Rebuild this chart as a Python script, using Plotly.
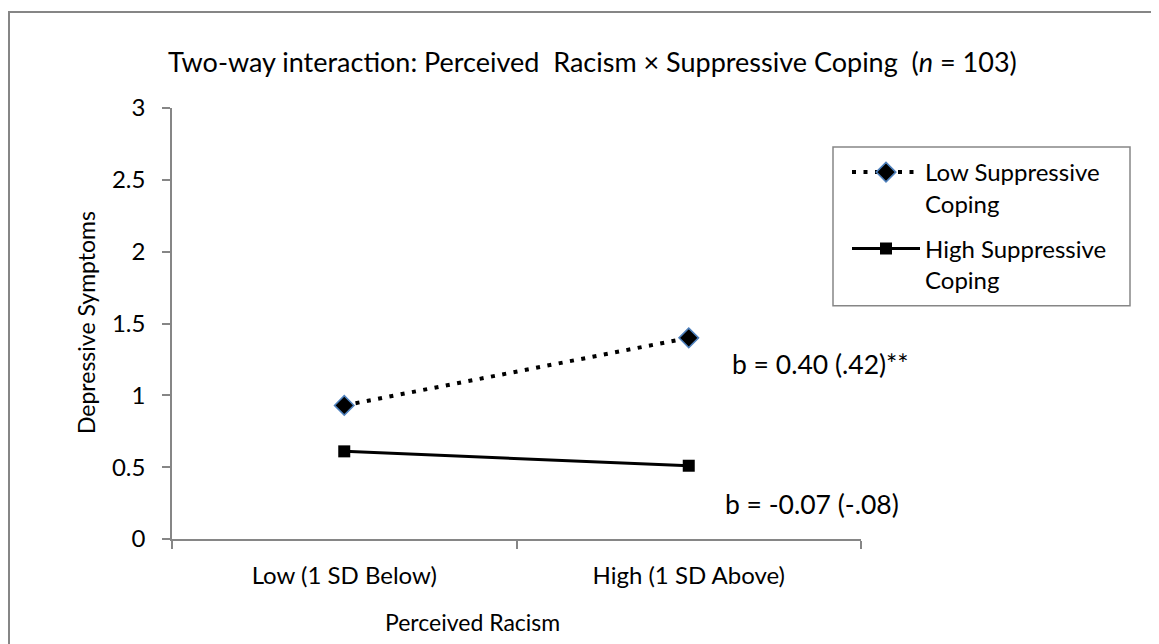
import plotly.graph_objects as go

categories = ["Low (1 SD Below)", "High (1 SD Above)"]
low_coping = [0.93, 1.40]
high_coping = [0.61, 0.51]
series_names = ["Low Suppressive<br>Coping", "High Suppressive<br>Coping"]
slope_labels = ["b = 0.40 (.42)**", "b = -0.07 (-.08)"]
y_ticks = [0, 0.5, 1, 1.5, 2, 2.5, 3]
y_tick_text = ["0", "0.5", "1", "1.5", "2", "2.5", "3"]

FONT = "Lato, Carlito, Calibri, sans-serif"
AXIS = "#868686"

# page body has an 8px margin; work in reference-screen pixels and shift
OFF = 8
W, H = 1151, 636
L, T = 172 - OFF, 108 - OFF
R = W - (861 - OFF)
B = H - (539 - OFF)
PW, PH = W - L - R, H - T - B


def px(x):
    return (x - OFF - L) / PW


def py(y):
    return (H - B - (y - OFF)) / PH


fig = go.Figure()
fig.add_trace(go.Scatter(
    x=categories, y=low_coping, name=series_names[0], mode="lines+markers",
    legendgroup="a",
    line=dict(color="black", width=4, dash="4px,7.5px"),
    marker=dict(symbol="diamond", size=15, color="black",
                line=dict(color="#4F81BD", width=1.5)),
))
fig.add_trace(go.Scatter(
    x=categories, y=high_coping, name=series_names[1], mode="lines+markers",
    legendgroup="b",
    line=dict(color="black", width=3),
    marker=dict(symbol="square", size=12, color="black"),
))

annotations = [
    dict(text="Two-way interaction: Perceived\u00a0 Racism × Suppressive Coping\u00a0 (<i>n</i> = 103)",
         x=px(592), y=py(62), xref="paper", yref="paper", showarrow=False,
         font=dict(size=27, color="black", family=FONT), xanchor="center", yanchor="middle"),
    dict(text="Depressive Symptoms", x=px(86), y=py(323), xref="paper", yref="paper",
         showarrow=False, textangle=-90,
         font=dict(size=23, color="black", family=FONT), xanchor="center", yanchor="middle"),
    dict(text="Perceived Racism", x=px(472), y=py(622), xref="paper", yref="paper",
         showarrow=False,
         font=dict(size=23, color="black", family=FONT), xanchor="center", yanchor="middle"),
    dict(text=slope_labels[0], x=px(730), y=py(364), xref="paper", yref="paper",
         showarrow=False,
         font=dict(size=26.5, color="black", family=FONT), xanchor="left", yanchor="middle"),
    dict(text=slope_labels[1], x=px(723), y=py(504), xref="paper", yref="paper",
         showarrow=False,
         font=dict(size=26.5, color="black", family=FONT), xanchor="left", yanchor="middle"),
]

shapes = [
    # outer chart-area frame (left edge sits at the page's first drawable pixel)
    dict(type="rect", xref="paper", yref="paper", x0=px(OFF + 1), x1=px(1200), y0=py(700), y1=py(12),
         line=dict(color=AXIS, width=2), fillcolor="rgba(0,0,0,0)", layer="below"),
    dict(type="rect", xref="paper", yref="paper", x0=px(833), x1=px(1130), y0=py(305.7), y1=py(147),
         line=dict(color=AXIS, width=1.5), fillcolor="rgba(0,0,0,0)"),
]

fig.update_layout(
    width=W, height=H,
    margin=dict(l=L, r=R, t=T, b=B, pad=0),
    paper_bgcolor="white", plot_bgcolor="white",
    font=dict(family=FONT, size=23, color="black"),
    showlegend=True,
    legend=dict(x=px(847), y=py(150), xanchor="left", yanchor="top",
                bgcolor="rgba(0,0,0,0)", borderwidth=0, itemwidth=68,
                valign="top", font=dict(size=24, family=FONT, color="black"),
                tracegroupgap=11),
    annotations=annotations,
    shapes=shapes,
    xaxis=dict(type="category", range=[-0.5, 1.5], showgrid=False, zeroline=False,
               showline=True, linecolor=AXIS, linewidth=1.5,
               ticks="outside", tickson="boundaries", ticklen=8, tickcolor=AXIS, tickwidth=1.5,
               ticklabelstandoff=14,
               tickfont=dict(size=24, family=FONT, color="black"), fixedrange=True),
    yaxis=dict(range=[0, 3], tickvals=y_ticks, ticktext=y_tick_text, showgrid=False,
               zeroline=False, showline=True, linecolor=AXIS, linewidth=1.5,
               ticks="outside", ticklen=8, tickcolor=AXIS, tickwidth=1.5,
               ticklabelstandoff=12,
               tickfont=dict(size=24, family=FONT, color="black"), fixedrange=True),
)

fig.write_html("out.html")
